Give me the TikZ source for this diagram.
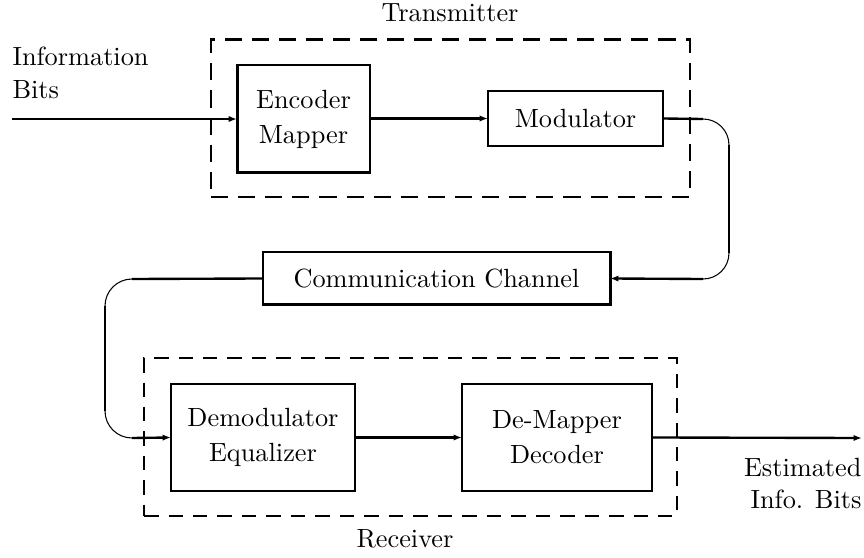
\documentclass[tikz,border=0pt]{standalone}
\usetikzlibrary{arrows.meta}
\begin{document}
\begin{tikzpicture}[x=0.38pt,y=-0.38pt,
  blockbox/.style={draw,line width=1.1pt,inner sep=0pt,outer sep=0pt,align=center},
  txbox/.style={draw,line width=1.1pt,dash pattern=on 6.5pt off 3.8pt,inner sep=0pt,outer sep=0pt},
  rxbox/.style={draw,line width=0.8pt,dash pattern=on 5.5pt off 3.8pt,inner sep=0pt,outer sep=0pt},
  conn/.style={line width=0.9pt},
  arr/.style={line width=0.9pt,-{Latex[length=3.2pt,width=2.4pt]}},
  curveline/.style={line width=0.4pt},
  lbl/.style={inner sep=0pt}]
\useasboundingbox (0,0) rectangle (864,558);
% groups
\node[txbox,minimum width=182pt,minimum height=59.7pt] (tx) at (450.5,118.5) {};
\node[rxbox,minimum width=202.5pt,minimum height=60pt] (rx) at (410.5,437) {};
% blocks
\node[blockbox,minimum width=50.5pt,minimum height=41pt] (enc) at (303.5,119) {Encoder\\[1.3pt]Mapper};
\node[blockbox,minimum width=66.5pt,minimum height=20.9pt] (mod) at (575.5,118.5) {Modulator};
\node[blockbox,minimum width=131.9pt,minimum height=20.1pt] (chan) at (436.5,278.5) {Communication Channel};
\node[blockbox,minimum width=69.9pt,minimum height=40.7pt] (dem) at (263,437.5) {Demodulator\\[1.3pt]Equalizer};
\node[blockbox,minimum width=72.2pt,minimum height=40.7pt] (dmap) at (557,437.5) {De-Mapper\\[1.3pt]Decoder};
% labels
\node[lbl,anchor=base] (txl) at (450,22) {Transmitter};
\node[lbl,anchor=base] (rxl) at (405,548) {Receiver};
\node[lbl,anchor=base west] (inf1) at (12,66) {Information};
\node[lbl,anchor=base west] (inf2) at (12,99) {Bits};
\node[lbl,anchor=base east] (est1) at (862,477) {Estimated};
\node[lbl,anchor=base east] (est2) at (862,509) {Info. Bits};
% coordinates
\coordinate (src) at (12,119);
\coordinate (sink) at (862,438);
\coordinate (r1) at (703,119);
\coordinate (r2) at (729,145);
\coordinate (r3) at (729,253);
\coordinate (r4) at (703,279);
\coordinate (l1) at (132,279);
\coordinate (l2) at (105,306);
\coordinate (l3) at (105,411);
\coordinate (l4) at (132,438);
% connectors
\draw[arr] (src) -- (enc.west);
\draw[arr] (enc.east |- mod.west) -- (mod.west);
\draw[conn] (mod.east) -- (r1);
\draw[curveline] (r1) .. controls (717.4,119) and (729,130.6) .. (r2);
\draw[conn] (r2) -- (r3);
\draw[curveline] (r3) .. controls (729,267.4) and (717.4,279) .. (r4);
\draw[arr] (r4) -- (chan.east);
\draw[conn] (chan.west) -- (l1);
\draw[curveline] (l1) .. controls (117.1,279) and (105,291.1) .. (l2);
\draw[conn] (l2) -- (l3);
\draw[curveline] (l3) .. controls (105,425.9) and (117.1,438) .. (l4);
\draw[arr] (l4) -- (dem.west);
\draw[arr] (dem.east) -- (dmap.west);
\draw[arr] (dmap.east) -- (sink);
\end{tikzpicture}
\end{document}
